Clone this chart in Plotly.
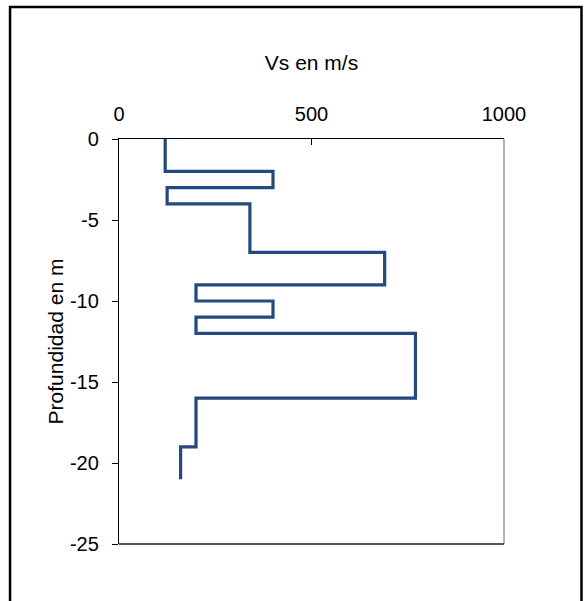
import plotly.graph_objects as go

# Layer tops (m, negative downward) and the final bottom depth
layer_tops = [0, -2, -3, -4, -7, -9, -10, -11, -12, -16, -19]
bottom_depth = -21
# Shear-wave velocity of each layer (m/s)
vs_values = [120, 400, 125, 340, 690, 200, 400, 200, 770, 200, 160]

x_ticks = [0, 500, 1000]
y_ticks = [0, -5, -10, -15, -20, -25]

xs = vs_values + [vs_values[-1]]
ys = layer_tops + [bottom_depth]

FONT = "Liberation Sans, Arial, sans-serif"

fig = go.Figure()
fig.add_trace(go.Scatter(
    x=xs, y=ys, mode="lines",
    line=dict(color="#24497d", width=3.2, shape="vh"),
    showlegend=False, hoverinfo="skip",
))

fig.update_layout(
    width=586, height=601,
    margin=dict(l=119, r=82, t=139, b=57),
    paper_bgcolor="white", plot_bgcolor="white",
    font=dict(family=FONT, size=20, color="black"),
    xaxis=dict(
        side="top", range=[0, 1000], tickvals=x_ticks,
        ticktext=[str(v) for v in x_ticks],
        showgrid=False, zeroline=False,
        showline=True, linecolor="black", linewidth=1.3,
        ticks="inside", ticklen=6, tickcolor="black", tickwidth=1,
        tickfont=dict(size=20), ticklabelstandoff=9,
        title=dict(text="Vs en m/s", font=dict(size=21), standoff=26),
    ),
    yaxis=dict(
        range=[-25, 0], tickvals=y_ticks,
        ticktext=[str(v) for v in y_ticks],
        showgrid=False, zeroline=False,
        showline=True, linecolor="black", linewidth=1.3,
        ticks="outside", ticklen=6, tickcolor="black", tickwidth=1,
        tickfont=dict(size=20), ticklabelstandoff=9,
        title=dict(text="Profundidad en m", font=dict(size=21), standoff=0),
    ),
    shapes=[
        # right border of plot area (gray)
        dict(type="line", xref="paper", yref="paper", x0=1, x1=1, y0=0, y1=1,
             line=dict(color="#8a8a8a", width=1.3)),
        # bottom border of plot area
        dict(type="line", xref="paper", yref="paper", x0=0, x1=1, y0=0, y1=0,
             line=dict(color="#222222", width=1.3)),
        # outer chart frame
        dict(type="rect", xref="paper", yref="paper",
             x0=-0.283, x1=1.2013, y0=-0.2, y1=1.326,
             line=dict(color="black", width=2.5), fillcolor="rgba(0,0,0,0)"),
    ],
)

fig.write_html(
    "out.html",
    config={"displayModeBar": False},
    post_script="document.body.style.margin='0';",
)
